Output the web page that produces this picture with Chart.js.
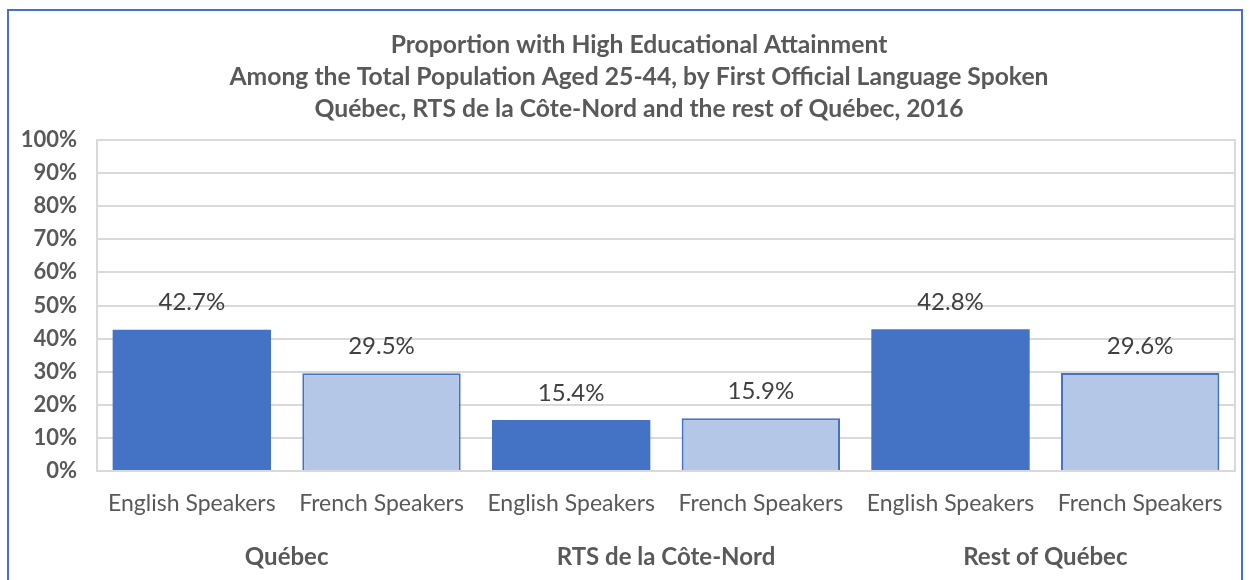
<!DOCTYPE html>
<html>
<head>
<meta charset="utf-8">
<script src="https://cdn.jsdelivr.net/npm/chart.js@4.4.1/dist/chart.umd.min.js"></script>
<style>
  body { margin: 0; background: #fff; }
  #wrap { position: relative; width: 1250px; height: 580px; overflow: hidden; }
  #frame { position: absolute; left: 7px; top: 9px; width: 1232px; height: 620px; border: 2px solid #4472C4; pointer-events: none; }
</style>
</head>
<body>
<div id="wrap">
  <canvas id="myChart" width="1250" height="580"></canvas>
  <div id="frame"></div>
</div>
<script>
const categories = ['English Speakers', 'French Speakers', 'English Speakers', 'French Speakers', 'English Speakers', 'French Speakers'];
const groups = ['Québec', 'RTS de la Côte-Nord', 'Rest of Québec'];
const values = [42.7, 29.5, 15.4, 15.9, 42.8, 29.6];
const yTicks = [0, 10, 20, 30, 40, 50, 60, 70, 80, 90, 100];
const titleLines = [
  'Proportion with High Educational Attainment',
  'Among the Total Population Aged 25-44, by First Official Language Spoken',
  'Québec, RTS de la Côte-Nord and the rest of Québec, 2016'
];

const englishColor = '#4472C4';
const frenchColor = '#B4C7E7';
const gridColor = '#D9D9D9';
const textColor = '#595959';
const fontName = 'Lato, Calibri, sans-serif';

// value labels above each bar
const barLabels = {
  id: 'barLabels',
  afterDatasetsDraw(chart) {
    const ctx = chart.ctx;
    const meta = chart.getDatasetMeta(0);
    ctx.save();
    ctx.font = '24px ' + fontName;
    ctx.fillStyle = '#404040';
    ctx.textAlign = 'center';
    ctx.textBaseline = 'middle';
    meta.data.forEach((bar, i) => {
      ctx.fillText(values[i].toFixed(1) + '%', bar.x, bar.y - 27);
    });
    ctx.restore();
  }
};

// grey box round the plot area
const plotBorder = {
  id: 'plotBorder',
  beforeDatasetsDraw(chart) {
    const a = chart.chartArea;
    const ctx = chart.ctx;
    ctx.save();
    ctx.strokeStyle = gridColor;
    ctx.lineWidth = 2;
    ctx.strokeRect(a.left, a.top, a.right - a.left, a.bottom - a.top);
    ctx.restore();
  }
};

// title sits a little right of the canvas centre in the original
const titleShift = {
  id: 'titleShift',
  afterLayout(chart) {
    if (chart.titleBlock) chart.titleBlock.left += 43;
  }
};

const ctx = document.getElementById('myChart');

new Chart(ctx, {
  type: 'bar',
  data: {
    labels: categories,
    datasets: [{
      data: values,
      backgroundColor: values.map((v, i) => i % 2 === 0 ? englishColor : frenchColor),
      borderColor: englishColor,
      borderWidth: values.map((v, i) => i % 2 === 0 ? 0 : 2),
      barPercentage: 0.835,
      categoryPercentage: 1
    }]
  },
  options: {
    responsive: false,
    animation: false,
    devicePixelRatio: 1,
    layout: { padding: { left: 0, right: 15, top: 0, bottom: 0 } },
    plugins: {
      legend: { display: false },
      tooltip: { enabled: false },
      title: {
        display: true,
        text: titleLines,
        color: textColor,
        font: { family: fontName, size: 24.7, weight: 'bold', lineHeight: 32 / 24.7 },
        padding: { top: 29, bottom: 15 }
      }
    },
    scales: {
      y: {
        min: 0,
        max: 100,
        afterBuildTicks: (scale) => { scale.ticks = yTicks.map(v => ({ value: v })); },
        afterFit: (scale) => { scale.width = 97; },
        ticks: {
          padding: 20,
          color: textColor,
          font: { family: fontName, size: 22, weight: 'bold' },
          callback: (v) => v + '%'
        },
        grid: { color: gridColor, lineWidth: 2, drawTicks: false },
        border: { color: gridColor, width: 2 }
      },
      x: {
        afterFit: (scale) => { scale.height = 60; },
        ticks: {
          padding: 19,
          color: textColor,
          maxRotation: 0,
          autoSkip: false,
          font: { family: fontName, size: 23 }
        },
        grid: { display: false, drawTicks: false },
        border: { color: gridColor, width: 2 }
      },
      x2: {
        type: 'category',
        position: 'bottom',
        labels: groups,
        offset: true,
        afterFit: (scale) => { scale.height = 49; },
        ticks: {
          padding: 12,
          color: textColor,
          maxRotation: 0,
          autoSkip: false,
          font: { family: fontName, size: 24, weight: 'bold' }
        },
        grid: { display: false, drawTicks: false },
        border: { display: false }
      }
    }
  },
  plugins: [titleShift, plotBorder, barLabels]
});
</script>
</body>
</html>
